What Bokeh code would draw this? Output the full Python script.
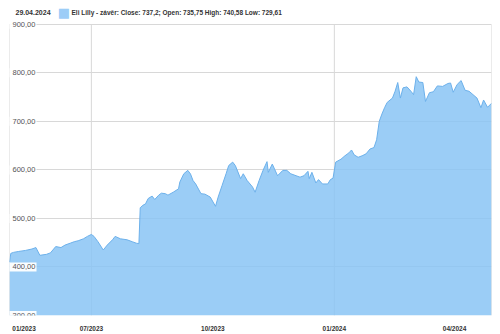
import pandas as pd
from bokeh.plotting import figure
from bokeh.models import ColumnDataSource, FixedTicker, Range1d
from bokeh.core.properties import value
from bokeh.embed import file_html
from bokeh.resources import INLINE

# ---- data ----
dates = [
    "2023-04-30", "2023-05-01", "2023-05-03", "2023-05-07", "2023-05-12", "2023-05-17",
    "2023-05-20", "2023-05-23", "2023-05-28", "2023-05-31", "2023-06-04", "2023-06-08",
    "2023-06-11", "2023-06-15", "2023-06-18", "2023-06-21", "2023-06-25", "2023-06-28",
    "2023-07-01", "2023-07-03", "2023-07-06", "2023-07-10", "2023-07-13", "2023-07-17",
    "2023-07-19", "2023-07-23", "2023-07-28", "2023-08-01", "2023-08-04", "2023-08-06",
    "2023-08-07", "2023-08-09", "2023-08-11", "2023-08-13", "2023-08-16", "2023-08-18",
    "2023-08-21", "2023-08-23", "2023-08-26", "2023-08-28", "2023-09-01", "2023-09-05",
    "2023-09-06", "2023-09-09", "2023-09-12", "2023-09-14", "2023-09-16", "2023-09-18",
    "2023-09-22", "2023-09-25", "2023-09-29", "2023-10-03", "2023-10-05", "2023-10-08",
    "2023-10-11", "2023-10-13", "2023-10-16", "2023-10-18", "2023-10-22", "2023-10-24",
    "2023-10-27", "2023-10-31", "2023-11-02", "2023-11-05", "2023-11-08", "2023-11-11",
    "2023-11-12", "2023-11-15", "2023-11-17", "2023-11-19", "2023-11-23", "2023-11-26",
    "2023-11-29", "2023-12-03", "2023-12-06", "2023-12-09", "2023-12-12", "2023-12-13",
    "2023-12-15", "2023-12-18", "2023-12-20", "2023-12-23", "2023-12-27", "2023-12-29",
    "2023-12-31", "2024-01-02", "2024-01-06", "2024-01-09", "2024-01-12", "2024-01-14",
    "2024-01-16", "2024-01-19", "2024-01-22", "2024-01-25", "2024-01-28", "2024-01-31",
    "2024-02-02", "2024-02-04", "2024-02-06", "2024-02-08", "2024-02-10", "2024-02-14",
    "2024-02-16", "2024-02-18", "2024-02-20", "2024-02-22", "2024-02-25", "2024-02-28",
    "2024-03-01", "2024-03-03", "2024-03-05", "2024-03-08", "2024-03-10", "2024-03-13",
    "2024-03-16", "2024-03-19", "2024-03-23", "2024-03-27", "2024-03-29", "2024-03-31",
    "2024-04-03", "2024-04-06", "2024-04-09", "2024-04-12", "2024-04-15", "2024-04-18",
    "2024-04-21", "2024-04-23", "2024-04-26", "2024-04-29",
]
close = [
    410, 428, 430, 432, 434, 437,
    440, 424, 426, 429, 442, 440,
    445, 449, 452, 454, 458, 463,
    467, 463, 452, 435, 445, 456,
    463, 458, 456, 452, 449, 448,
    522, 527, 530, 541, 546, 539,
    548, 552, 551, 548, 554, 561,
    575, 592, 599, 592, 578, 571,
    551, 550, 544, 525, 544, 568,
    592, 609, 616, 609, 582, 592,
    578, 565, 554, 578, 599, 617,
    595, 612, 600, 588, 599, 599,
    592, 588, 585, 588, 597, 582,
    595, 573, 580, 571, 571, 580,
    583, 616, 622, 629, 635, 641,
    631, 626, 629, 633, 643, 646,
    662, 700, 715, 728, 739, 748,
    762, 780, 748, 769, 771, 762,
    755, 792, 781, 780, 741, 759,
    761, 773, 772, 778, 779, 760,
    776, 784, 764, 762, 755, 748,
    728, 744, 729, 737.2,
]

tick_dates = ["2023-05-11", "2023-07-01", "2023-10-01", "2024-01-01", "2024-04-01"]
tick_labels = ["01/2023", "07/2023", "10/2023", "01/2024", "04/2024"]
grid_dates = ["2023-07-01", "2024-01-01"]
y_ticks = [300, 400, 500, 600, 700, 800, 900]
y_tick_labels = ["300,00", "400,00", "500,00", "600,00", "700,00", "800,00", "900,00"]

header_date = "29.04.2024"
legend_text = "Eli Lilly - závěr: Close: 737,2; Open: 735,75 High: 740,58 Low: 729,61"

# ---- build ----
def ms(d):
    return pd.Timestamp(d).value // 10**6

Y_MIN, Y_MAX = y_ticks[0], y_ticks[-1]
TOP_PX, PLOT_PX = 24, 294          # header band height, height of 300..900 band
y_top = Y_MAX + TOP_PX * (Y_MAX - Y_MIN) / PLOT_PX

t0, t1 = pd.Timestamp(dates[0]), pd.Timestamp(dates[-1])
src = ColumnDataSource(dict(date=pd.to_datetime(dates), close=close))

p = figure(width=500, height=334, x_axis_type="datetime",
           x_range=Range1d(t0, t1), y_range=Range1d(Y_MIN, y_top),
           output_backend="svg", toolbar_location=None,
           min_border_left=9, min_border_right=9, min_border_top=0, min_border_bottom=16)
p.background_fill_color = "white"
p.border_fill_color = "white"
p.outline_line_color = None

p.ygrid.ticker = FixedTicker(ticks=y_ticks)
p.ygrid.grid_line_color = "#d8d8d8"
p.xgrid.visible = False

# vertical grid lines and frame sides (only in the 300..900 band)
vx = [t0] + [pd.Timestamp(d) for d in grid_dates] + [t1]
p.segment(x0=vx, y0=[Y_MIN] * len(vx), x1=vx, y1=[Y_MAX] * len(vx),
          line_color="#d8d8d8", line_width=1)

p.varea(x="date", y1=Y_MIN, y2="close", source=src, fill_color="#8ac4f5", fill_alpha=0.85)
p.line(x="date", y="close", source=src, line_color="#6cb0ea", line_width=1)

p.yaxis.visible = False
ax = p.xaxis[0]
ax.ticker = FixedTicker(ticks=[ms(d) for d in tick_dates])
ax.major_label_overrides = {ms(d): lab for d, lab in zip(tick_dates, tick_labels)}
ax.axis_line_color = None
ax.major_tick_line_color = None
ax.minor_tick_line_color = None
ax.major_label_standoff = 3
ax.major_label_text_font = "Liberation Sans"
ax.major_label_text_font_size = "6.5px"
ax.major_label_text_font_style = "bold"
ax.major_label_text_color = "#333333"

# y tick labels inside the plot (white boxes drawn as glyph rectangles)
n = len(y_ticks)
p.rect(x=[t0] * n, y=y_ticks, width=54, height=9, width_units="screen", height_units="screen",
       fill_color="white", fill_alpha=0.95, line_color=None)
p.text(x=[t0] * n, y=y_ticks, text=y_tick_labels, x_offset=3,
       text_baseline="middle", text_align="left",
       text_font=value("Liberation Sans"), text_font_size="7.5px", text_color="#555555")

# header: date, legend marker, legend text
p.text(x=[t0], y=[Y_MAX], text=[header_date], x_offset=6, y_offset=-12,
       text_baseline="middle", text_align="left", text_font=value("Liberation Sans"),
       text_font_size="7px", text_font_style="bold", text_color="#333333")
p.text(x=[t0], y=[Y_MAX], text=["■"], x_offset=54.5, y_offset=-12,
       text_baseline="middle", text_align="center", text_font=value("DejaVu Sans"),
       text_font_size="13px", text_color="#9ccdf7")
p.text(x=[t0], y=[Y_MAX], text=[legend_text], x_offset=62, y_offset=-12,
       text_baseline="middle", text_align="left", text_font=value("Liberation Sans"),
       text_font_size="6.5px", text_font_style="bold", text_color="#333333")

open("out.html", "w").write(file_html(p, INLINE))
